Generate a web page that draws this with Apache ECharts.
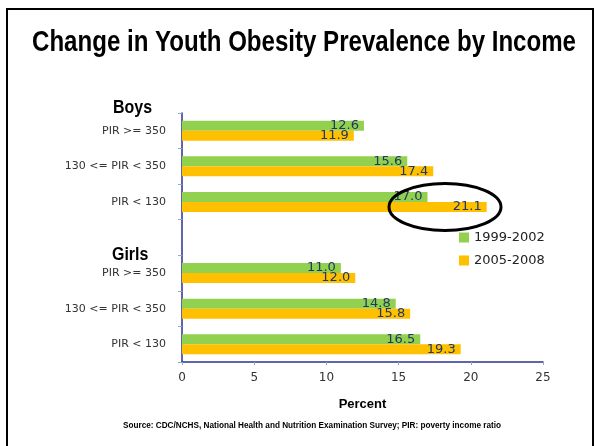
<!DOCTYPE html>
<html>
<head>
<meta charset="utf-8">
<title>Change in Youth Obesity Prevalence by Income</title>
<script src="https://cdn.jsdelivr.net/npm/echarts@6/dist/echarts.min.js"></script>
<style>
  html, body { margin: 0; padding: 0; background: #fff; }
  #chart { width: 596px; height: 446px; }
</style>
</head>
<body>
<div id="chart"></div>
<script>
// categories top to bottom, empty one is the gap between Boys and Girls
var categories = ['PIR >= 350', '130 <= PIR < 350', 'PIR < 130', '', 'PIR >= 350', '130 <= PIR < 350', 'PIR < 130'];
var series1999 = [12.6, 15.6, 17.0, null, 11.0, 14.8, 16.5];
var series2005 = [11.9, 17.4, 21.1, null, 12.0, 15.8, 19.3];
var seriesNames = ['1999-2002', '2005-2008'];
var xTicks = {min: 0, max: 25, interval: 5};

var labelStyle = {
  show: true,
  position: 'insideRight',
  distance: 5,
  color: '#1f3864',
  fontFamily: 'DejaVu Sans',
  fontSize: 13,
  formatter: function (p) {
    return p.value == null ? '' : p.value.toFixed(1);
  }
};

var option = {
  backgroundColor: '#fff',
  animation: false,
  legend: {
    data: seriesNames,
    orient: 'vertical',
    left: 454,
    top: 226,
    itemWidth: 10,
    itemHeight: 10,
    itemGap: 10,
    icon: 'rect',
    textStyle: {
      fontFamily: 'DejaVu Sans',
      fontSize: 13,
      color: '#222'
    }
  },
  grid: {
    left: 182,
    right: 53,
    top: 113,
    bottom: 84
  },
  xAxis: {
    type: 'value',
    min: xTicks.min,
    max: xTicks.max,
    interval: xTicks.interval,
    name: 'Percent',
    nameLocation: 'middle',
    nameGap: 36,
    nameTextStyle: {
      fontFamily: 'Liberation Sans',
      fontWeight: 'bold',
      fontSize: 13,
      color: '#000'
    },
    axisLine: { show: true, lineStyle: { color: '#2e3192', width: 1.5 } },
    axisTick: { show: true, length: 3, lineStyle: { color: '#9aa3d0' } },
    axisLabel: {
      margin: 10,
      fontFamily: 'DejaVu Sans',
      fontSize: 12,
      color: '#333'
    },
    splitLine: { show: false }
  },
  yAxis: {
    type: 'category',
    data: categories,
    inverse: true,
    axisLine: { show: true, lineStyle: { color: '#2e3192', width: 1.5 } },
    axisTick: { show: true, length: 4, lineStyle: { color: '#9aa3d0' } },
    axisLabel: {
      margin: 16,
      fontFamily: 'DejaVu Sans',
      fontSize: 11,
      color: '#333'
    }
  },
  series: [{
    name: seriesNames[0],
    type: 'bar',
    data: series1999,
    barWidth: 10,
    barGap: '0%',
    itemStyle: { color: '#92d050' },
    label: labelStyle
  }, {
    name: seriesNames[1],
    type: 'bar',
    data: series2005,
    barWidth: 10,
    barGap: '0%',
    itemStyle: { color: '#ffc000' },
    label: labelStyle
  }],
  graphic: [{
    type: 'rect',
    shape: { x: 7, y: 9, width: 586, height: 450 },
    style: { fill: 'none', stroke: '#000', lineWidth: 2 },
    silent: true
  }, {
    //title, squeezed like the narrow font of the slide
    type: 'text',
    x: 304,
    y: 43,
    scaleX: 0.83,
    style: {
      text: 'Change in Youth Obesity Prevalence by Income',
      font: 'bold 29px "Liberation Sans"',
      fill: '#000',
      textAlign: 'center',
      textVerticalAlign: 'middle'
    }
  }, {
    type: 'text',
    x: 113,
    y: 108,
    scaleX: 0.84,
    style: {
      text: 'Boys',
      font: 'bold 19px "Liberation Sans"',
      fill: '#000',
      textVerticalAlign: 'middle'
    }
  }, {
    type: 'text',
    x: 112,
    y: 255,
    scaleX: 0.84,
    style: {
      text: 'Girls',
      font: 'bold 19px "Liberation Sans"',
      fill: '#000',
      textVerticalAlign: 'middle'
    }
  }, {
    //circle round the 21.1 bar
    type: 'ellipse',
    shape: { cx: 445, cy: 207, rx: 56, ry: 23.5 },
    style: { fill: 'none', stroke: '#000', lineWidth: 3 },
    z: 100
  }, {
    type: 'text',
    x: 312,
    y: 426,
    style: {
      text: 'Source: CDC/NCHS, National Health and Nutrition Examination Survey; PIR: poverty income ratio',
      font: 'bold 8.2px "Liberation Sans"',
      fill: '#000',
      textAlign: 'center',
      textVerticalAlign: 'middle'
    }
  }]
};

var chart = echarts.init(document.getElementById('chart'));
chart.setOption(option);
</script>
</body>
</html>
